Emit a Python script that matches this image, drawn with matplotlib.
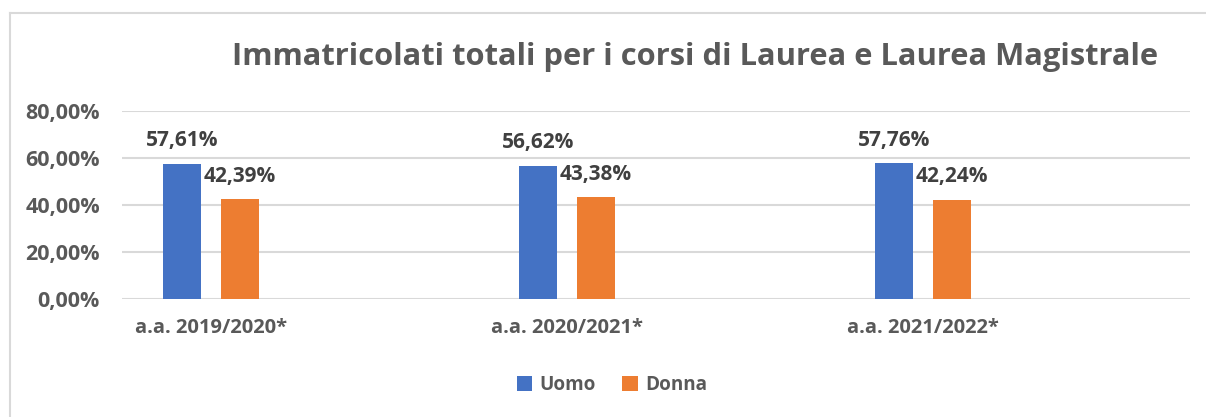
import numpy as np
import matplotlib.pyplot as plt
from matplotlib.lines import Line2D

categories = ["a.a. 2019/2020*", "a.a. 2020/2021*", "a.a. 2021/2022*"]
uomo = [57.61, 56.62, 57.76]
donna = [42.39, 43.38, 42.24]
yticks = [0, 20, 40, 60, 80]

W, H = 1206, 417
plt.rcParams['font.family'] = ['Open Sans', 'DejaVu Sans']
fig = plt.figure(figsize=(W / 100, H / 100), dpi=100)

# plot area in pixels: x 122..1190, y 111 (80%)..299 (0%)
ax = fig.add_axes([122 / W, 1 - 299 / H, (1190 - 122) / W, (299 - 111) / H])

x = np.arange(len(categories))
bw = 0.107
off = 0.081
blue = "#4472C4"
orange = "#ED7D31"
txt = "#404040"
tick = "#595959"

b1 = ax.bar(x - off, uomo, bw, color=blue, label="Uomo")
b2 = ax.bar(x + off, donna, bw, color=orange, label="Donna")

def fmt(v):
    return f"{v:.2f}".replace(".", ",") + "%"

for bars, vals in [(b1, uomo), (b2, donna)]:
    for r, v in zip(bars, vals):
        ax.annotate(fmt(v), (r.get_x() + r.get_width() / 2, v), xytext=(0, 9),
                    textcoords="offset points", ha="center", va="bottom",
                    fontsize=15, fontweight="bold", color=txt)

ax.set_ylim(0, 80)
ax.set_xlim(-0.25, 2.75)
ax.set_yticks(yticks)
ax.set_yticklabels([f"{t},00%" for t in yticks], fontsize=15.5, fontweight="bold", color=tick)
ax.set_xticks(x)
ax.set_xticklabels(categories, fontsize=14.5, fontweight="bold", color=tick)
ax.tick_params(length=0, axis="y", pad=16)
ax.tick_params(length=0, axis="x", pad=14)
ax.grid(axis="y", color="#D9D9D9", linewidth=1.5)
ax.set_axisbelow(True)
for s in ax.spines.values():
    s.set_visible(False)

fig.text(695 / W, 1 - 57 / H, "Immatricolati totali per i corsi di Laurea e Laurea Magistrale",
         ha="center", va="center", fontsize=22.2, fontweight="bold", color=tick)

fig.legend(handles=[b1, b2], loc="center", bbox_to_anchor=(612 / W, 1 - 385 / H), ncol=2,
           frameon=False, prop={"size": 13.6, "weight": "bold"}, handlelength=0.8,
           handleheight=0.8, columnspacing=1.4, handletextpad=0.4, labelcolor=tick)

# chart border
fig.add_artist(Line2D([10 / W, 1], [1 - 13 / H, 1 - 13 / H], color="#D9D9D9", lw=1.5))
fig.add_artist(Line2D([10 / W, 10 / W], [0, 1 - 13 / H], color="#D9D9D9", lw=1.5))

fig.savefig("out.png", dpi=100, facecolor="white")
